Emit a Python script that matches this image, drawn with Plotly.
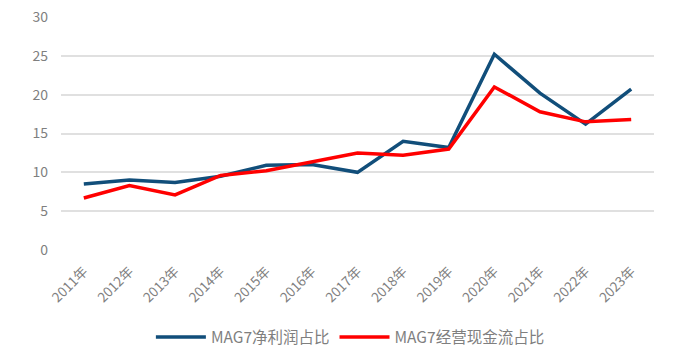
import plotly.graph_objects as go

years = ["2011年","2012年","2013年","2014年","2015年","2016年","2017年","2018年","2019年","2020年","2021年","2022年","2023年"]
net_profit = [8.5, 9.0, 8.7, 9.5, 10.9, 11.0, 10.0, 14.0, 13.2, 25.2, 20.2, 16.2, 20.7]
op_cash = [6.7, 8.3, 7.1, 9.6, 10.2, 11.3, 12.5, 12.2, 13.0, 21.0, 17.8, 16.5, 16.8]

fig = go.Figure()
fig.add_trace(go.Scatter(x=years, y=net_profit, mode="lines", name="MAG7净利润占比",
                         line=dict(color="#114E7A", width=3.5)))
fig.add_trace(go.Scatter(x=years, y=op_cash, mode="lines", name="MAG7经营现金流占比",
                         line=dict(color="#FF0000", width=3.5)))

fig.update_layout(
    width=693, height=352,
    margin=dict(l=61, r=39, t=17, b=102, autoexpand=False),
    paper_bgcolor="white", plot_bgcolor="white",
    font=dict(family="Noto Sans CJK SC, Noto Sans, sans-serif", color="#7F7F7F", size=12),
    showlegend=True,
    legend=dict(orientation="h", x=0.488, xanchor="center", y=-0.375, yanchor="middle",
                font=dict(size=15.5, color="#7F7F7F"), itemwidth=50, tracegroupgap=0),
    xaxis=dict(type="category", range=[-0.5, 12.5], tickangle=-45, showgrid=False,
               showline=False, ticks="", tickfont=dict(size=13.5, color="#7F7F7F"),
               automargin=False, ticklabelstandoff=10),
    yaxis=dict(range=[0, 30], dtick=5, showgrid=True, gridcolor="#E0E0E0", gridwidth=1.5,
               zeroline=False, showline=False, ticks="", tickfont=dict(size=14, color="#7F7F7F"),
               automargin=False, ticklabelstandoff=12),
)
fig.write_html("out.html")
